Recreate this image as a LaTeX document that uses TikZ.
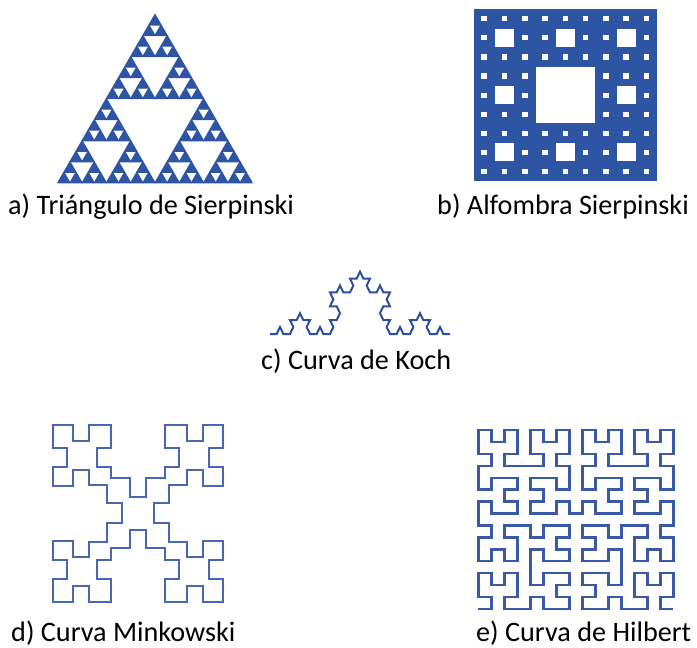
\documentclass[tikz,border=0pt]{standalone}
\usepackage{fontspec}
\setmainfont{Carlito}
\usetikzlibrary{lindenmayersystems}
\definecolor{fblue}{HTML}{2E55A3}
\definecolor{kblue}{HTML}{2F4E9E}
\definecolor{mblue}{HTML}{4868B3}
\definecolor{hblue}{HTML}{3A5AA8}

\pgfdeclarelindenmayersystem{KochC}{\rule{F -> F+F--F+F}}
\pgfdeclarelindenmayersystem{HilbertC}{%
  \rule{A -> +BF-AFA-FB+}
  \rule{B -> -AF+BFB+FA-}}

\newcommand\sierpT[1]{%
  \ifnum#1=0
    \filldraw[fblue, line width=1.1pt, line join=round] (0,0) -- (1,0) -- (0.5,0.8660254) -- cycle;
  \else
    \begin{scope}[scale=0.5]\sierpT{\the\numexpr#1-1\relax}\end{scope}%
    \begin{scope}[shift={(0.5,0)},scale=0.5]\sierpT{\the\numexpr#1-1\relax}\end{scope}%
    \begin{scope}[shift={(0.25,0.4330127)},scale=0.5]\sierpT{\the\numexpr#1-1\relax}\end{scope}%
  \fi}

\newcommand\carpetH[1]{%
  \fill[white] (1/3,1/3) rectangle (2/3,2/3);
  \draw[fblue, line width=1.2pt] (1/3,1/3) rectangle (2/3,2/3);
  \ifnum#1>1
    \foreach \ci/\cj in {0/0,1/0,2/0,0/1,2/1,0/2,1/2,2/2}{%
      \begin{scope}[shift={(\ci/3,\cj/3)},scale=1/3]\carpetH{\the\numexpr#1-1\relax}\end{scope}}%
  \fi}

\begin{document}
\begin{tikzpicture}[x=1pt,y=-1pt,
  lbl/.style={anchor=base west, inner sep=0pt, font=\fontsize{28.2}{34}\selectfont},
  mink/.style={mblue, line width=1.9pt, line join=miter},
  hilb/.style={hblue, line width=2.4pt, line join=miter},
  koch/.style={kblue, line width=2pt, line join=miter}]
\useasboundingbox (0,0) rectangle (697,648);
\fill[white] (0,0) rectangle (697,648);

% a) Sierpinski triangle
\begin{scope}[shift={(57.8,182.8)}, x=194.4pt, y=194.4pt]
  \sierpT{4}
\end{scope}

% b) Sierpinski carpet
\begin{scope}[shift={(474,9.3)}, x=182.7pt, y=-171.7pt]
  \fill[fblue] (0,0) rectangle (1,1);
  \carpetH{3}
\end{scope}

% c) Koch curve
\coordinate (kochstart) at (270,334);
\draw[koch, shift={(kochstart)}, yscale=1.2,
  l-system={KochC, axiom=F, order=3, step=6.6667pt, angle=60}] (0,0) lindenmayer system;

% d) Minkowski
\coordinate (minkc) at (138,513.3);
\foreach \sx/\sy in {1/1,-1/1,1/-1,-1/-1}{
  \draw[mink, shift={(minkc)}, xscale=\sx, yscale=\sy]
    (-16.3,0) -- (-16.3,-10) -- (-31.3,-10) -- (-31.3,-28.3) -- (-48.7,-28.3)
    -- (-48.7,-43.3) -- (-65.3,-43.3) -- (-65.3,-27.7) -- (-84.7,-27.7)
    -- (-84.7,-46.7) -- (-70.7,-46.7) -- (-70.7,-65.7) -- (-84.7,-65.7)
    -- (-84.7,-88.3) -- (-65.3,-88.3) -- (-65.3,-72.3) -- (-48.7,-72.3)
    -- (-48.7,-88.3) -- (-27.3,-88.3) -- (-27.3,-65.7) -- (-41.3,-65.7)
    -- (-41.3,-46.7) -- (-27.3,-46.7) -- (-27.3,-35) -- (-8,-35)
    -- (-8,-16.7) -- (0,-16.7);
}

% e) Hilbert
\coordinate (hilbstart) at (478.3,609);
\draw[hilb, shift={(hilbstart)}, xscale=13, yscale=11.933,
  l-system={HilbertC, axiom=A, order=4, step=1pt, angle=90}] (0,0) lindenmayer system;

% labels
\node[lbl] (la) at (8,214) {a) Triángulo de Sierpinski};
\node[lbl] (lb) at (437,214) {b) Alfombra Sierpinski};
\node[lbl] (lc) at (261,369) {c) Curva de Koch};
\node[lbl] (ld) at (11,641) {d) Curva Minkowski};
\node[lbl] (le) at (476,641) {e) Curva de Hilbert};
\end{tikzpicture}
\end{document}
